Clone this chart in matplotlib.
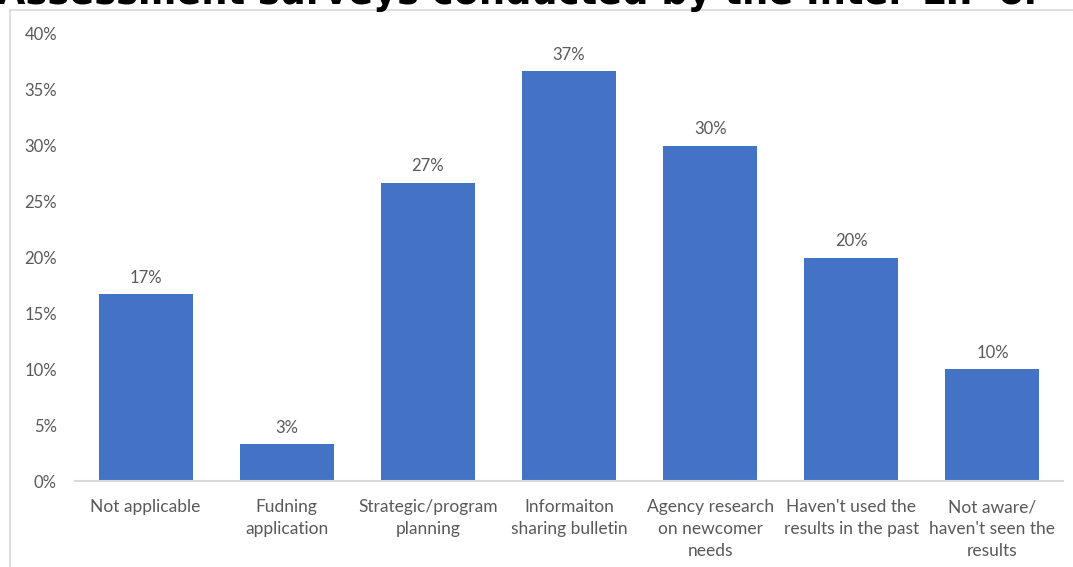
import matplotlib
matplotlib.use("Agg")
import matplotlib.pyplot as plt
from matplotlib.lines import Line2D
from matplotlib.ticker import FuncFormatter

categories = [
    "Not applicable",
    "Fudning\napplication",
    "Strategic/program\nplanning",
    "Informaiton\nsharing bulletin",
    "Agency research\non newcomer\nneeds",
    "Haven't used the\nresults in the past",
    "Not aware/\nhaven't seen the\nresults",
]
shares = [16.7, 3.3, 26.7, 36.7, 30.0, 20.0, 10.0]
y_ticks = [0, 5, 10, 15, 20, 25, 30, 35, 40]
title = "Assessment surveys conducted by the Inter-LIP or"

BAR = "#4472C4"
TXT = "#595959"
LINE = "#D9D9D9"
FONT = "Lato"

W, H = 1073, 567
fig = plt.figure(figsize=(W / 100, H / 100), dpi=100)
fig.patch.set_facecolor("white")

# chart frame, runs off the right and bottom edges
fig.add_artist(Line2D([10 / W, 1], [1 - 10 / H, 1 - 10 / H], color=LINE, lw=1.2, transform=fig.transFigure))
fig.add_artist(Line2D([10 / W, 10 / W], [0, 1 - 10 / H], color=LINE, lw=1.2, transform=fig.transFigure))

# heading is cut by the top edge
fig.text(-3 / W, 1 - 4 / H, title, fontsize=26.5, fontweight="bold", family="DejaVu Sans",
         color="black", ha="left", va="baseline")

ax = fig.add_axes([75 / W, 1 - 481 / H, (1063 - 75) / W, (481 - 34) / H])
x = list(range(len(categories)))
bars = ax.bar(x, shares, width=0.665, color=BAR, zorder=2)
for b, v in zip(bars, shares):
    ax.annotate(f"{v:.0f}%", (b.get_x() + b.get_width() / 2, v), xytext=(0, 6),
                textcoords="offset points", ha="center", va="bottom",
                fontsize=12, color=TXT, family=FONT)

ax.set_xlim(-0.5, len(categories) - 0.5)
ax.set_ylim(0, 40)
ax.set_yticks(y_ticks)
ax.yaxis.set_major_formatter(FuncFormatter(lambda v, _: f"{v:.0f}%"))
ax.set_xticks(x)
ax.set_xticklabels(categories, linespacing=1.45)
ax.tick_params(axis="y", length=0, pad=13, labelsize=12, labelcolor=TXT)
ax.tick_params(axis="x", length=0, pad=13, labelsize=12.5, labelcolor=TXT)
for lbl in ax.get_xticklabels() + ax.get_yticklabels():
    lbl.set_family(FONT)

for side in ["top", "right", "left"]:
    ax.spines[side].set_visible(False)
ax.spines["bottom"].set_color(LINE)
ax.spines["bottom"].set_linewidth(1.5)

fig.savefig("out.png", dpi=100)
